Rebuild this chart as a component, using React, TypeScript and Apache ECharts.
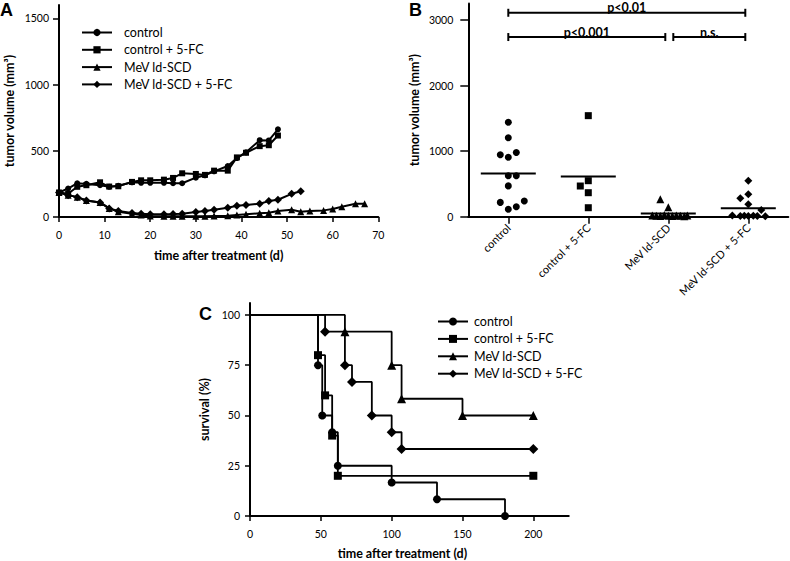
import { useEffect, useRef } from 'react';
import * as echarts from 'echarts';

const groupNames = ['control', 'control + 5-FC', 'MeV ld-SCD', 'MeV ld-SCD + 5-FC'];

// ---------- Panel A: tumor volume over time ----------
const aDaysControl = [0, 2, 4, 6, 9, 11, 13, 16, 18, 20, 23, 25, 27, 30, 32, 34, 37, 39, 41, 44, 46, 48];
const aVolControl = [185, 215, 255, 250, 240, 228, 236, 262, 258, 258, 258, 255, 255, 297, 315, 345, 385, 445, 488, 580, 578, 662];
const aVolControl5FC = [185, 175, 228, 240, 262, 230, 232, 265, 277, 277, 282, 295, 330, 325, 318, 350, 350, 450, 485, 535, 542, 615];
const aDaysMeV = [0, 2, 4, 6, 9, 11, 13, 16, 18, 20, 23, 25, 27, 30, 32, 34, 37, 39, 41, 44, 46, 48, 51, 53, 55, 58, 60, 62, 65, 67];
const aVolMeV = [185, 165, 150, 125, 110, 65, 40, 25, 15, 8, 5, 5, 5, 5, 5, 8, 10, 15, 20, 28, 32, 45, 55, 40, 45, 50, 60, 78, 100, 100];
const aDaysMeV5FC = [0, 2, 4, 6, 9, 11, 13, 16, 18, 20, 23, 25, 27, 30, 32, 34, 37, 39, 41, 44, 46, 48, 51, 53];
const aVolMeV5FC = [185, 165, 150, 125, 110, 65, 45, 30, 25, 20, 20, 22, 25, 38, 45, 55, 70, 85, 90, 100, 120, 130, 175, 195];
const aXTicks = [0, 10, 20, 30, 40, 50, 60, 70];
const aYTicks = [0, 500, 1000, 1500];

// ---------- Panel B: final tumor volumes ----------
const bControl = [1440, 1205, 945, 906, 978, 625, 625, 470, 218, 113, 153, 240];
const bControl5FC = [1541, 549, 468, 366, 137];
const bMeV = [265, 143, 20, 15, 10, 25, 15, 10, 20, 15, 5, 20];
const bMeV5FC = [549, 341, 281, 189, 102, 20, 10, 15, 10, 15, 10, 5];
const bYTicks = [0, 1000, 2000, 3000];
// horizontal jitter of the dots (layout, px)
const jitterControl = [0, 0, -8, 0, 8, 0, 8, 0, -8, 0, 8, 16];
const jitterControl5FC = [0, 0, -8, 0, 0];
const jitterMeV = [-8, 0, -16, -12, -8, -4, 0, 4, 8, 12, 16, 19];
const jitterMeV5FC = [0, 0, -8, 0, 13, -16, -8, -4, 0, 5, 9, 17];
// significance brackets
const bracketFrom = [0, 0, 2];
const bracketTo = [3, 2, 3];
const bracketLevel = [3110, 2740, 2740];
const bracketText = ['p<0.01', 'p<0.001', 'n.s.'];

// ---------- Panel C: survival ----------
const cTimeControl = [0, 48, 51, 58, 62, 100, 132, 180];
const cSurvControl = [100, 75, 50, 41.67, 25, 16.67, 8.33, 0];
const cTimeControl5FC = [0, 48, 53, 58, 62, 200];
const cSurvControl5FC = [100, 80, 60, 40, 20, 20];
const cTimeMeV = [0, 67, 100, 107, 150, 200];
const cSurvMeV = [100, 91.67, 75, 58.33, 50, 50];
const cTimeMeV5FC = [0, 53, 67, 72, 86, 100, 107, 200];
const cSurvMeV5FC = [100, 91.67, 75, 66.67, 50, 41.67, 33.33, 33.33];
const cXTicks = [0, 50, 100, 150, 200];
const cYTicks = [0, 25, 50, 75, 100];

const FONT = 'Lato, "Open Sans", sans-serif';
const symbols = ['circle', 'rect', 'triangle', 'diamond'];

const mean = (a: number[]) => a.reduce((s, v) => s + v, 0) / a.length;

function axisBase(tickLen: number, margin: number) {
  return {
    axisLine: { show: true, onZero: false, lineStyle: { color: '#000', width: 2 } },
    axisTick: { show: true, length: tickLen, lineStyle: { color: '#000', width: 1.5 } },
    axisLabel: { color: '#000', fontFamily: FONT, fontSize: 10.5, margin, formatter: (v: any) => String(v) },
    splitLine: { show: false },
    nameTextStyle: { color: '#000', fontFamily: FONT, fontSize: 12.5, fontWeight: 'bold' },
  };
}

export default function App() {
  const ref = useRef<HTMLDivElement>(null);
  useEffect(() => {
    if (!ref.current) return;
    const chart = echarts.init(ref.current, undefined, { renderer: 'svg' });

    const pairs = (xs: number[], ys: number[]) => xs.map((x, i) => [x, ys[i]]);
    const kmData = (xs: number[], ys: number[]) =>
      xs.map((x, i) => (i === 0 ? { value: [x, ys[i]], symbol: 'none' } : [x, ys[i]]));
    const jittered = (vals: number[], jit: number[], cat: number) =>
      vals.map((v, i) => ({ value: [cat, v], symbolOffset: [jit[i], 0] }));

    const aSets = [
      pairs(aDaysControl, aVolControl),
      pairs(aDaysControl, aVolControl5FC),
      pairs(aDaysMeV, aVolMeV),
      pairs(aDaysMeV5FC, aVolMeV5FC),
    ];
    const aSizes = [6, 6, 7, 8];
    const cSets = [
      kmData(cTimeControl, cSurvControl),
      kmData(cTimeControl5FC, cSurvControl5FC),
      kmData(cTimeMeV, cSurvMeV),
      kmData(cTimeMeV5FC, cSurvMeV5FC),
    ];
    const cSizes = [8, 8, 9, 10];
    const bSets = [
      jittered(bControl, jitterControl, 0),
      jittered(bControl5FC, jitterControl5FC, 1),
      jittered(bMeV, jitterMeV, 2),
      jittered(bMeV5FC, jitterMeV5FC, 3),
    ];
    const bSizes = [7, 7, 8, 8];
    const bMeans = [bControl, bControl5FC, bMeV, bMeV5FC].map(mean);

    const series: any[] = [];
    aSets.forEach((d, i) =>
      series.push({
        type: 'line', name: groupNames[i], xAxisIndex: 0, yAxisIndex: 0, data: d,
        symbol: symbols[i], symbolSize: aSizes[i], showSymbol: true,
        lineStyle: { color: '#000', width: 2 }, itemStyle: { color: '#000', opacity: 1 }, z: 3,
      })
    );
    cSets.forEach((d, i) =>
      series.push({
        type: 'line', name: groupNames[i], xAxisIndex: 2, yAxisIndex: 2, data: d, step: 'end',
        symbol: symbols[i], symbolSize: cSizes[i], showSymbol: true,
        lineStyle: { color: '#000', width: 1.8 }, itemStyle: { color: '#000', opacity: 1 }, z: 3,
      })
    );
    bSets.forEach((d, i) =>
      series.push({
        type: 'scatter', name: 'b-' + groupNames[i], xAxisIndex: 1, yAxisIndex: 1, data: d,
        symbol: symbols[i], symbolSize: bSizes[i], itemStyle: { color: '#000', opacity: 1 }, z: 3,
      })
    );
    series.push({
      type: 'custom', name: 'means', xAxisIndex: 1, yAxisIndex: 1, silent: true, z: 4, clip: false,
      data: bMeans.map((m, i) => [i, m]),
      renderItem: (_p: any, api: any) => {
        const p = api.coord([api.value(0), api.value(1)]);
        return {
          type: 'line',
          shape: { x1: p[0] - 27.5, y1: p[1], x2: p[0] + 27.5, y2: p[1] },
          style: { stroke: '#000', lineWidth: 2 },
        };
      },
    });
    series.push({
      type: 'custom', name: 'brackets', xAxisIndex: 1, yAxisIndex: 1, silent: true, z: 4, clip: false,
      data: bracketLevel.map((v, i) => [bracketFrom[i], v]),
      renderItem: (params: any, api: any) => {
        const i = params.dataIndex;
        const a = api.coord([bracketFrom[i], bracketLevel[i]]);
        const b = api.coord([bracketTo[i], bracketLevel[i]]);
        const x1 = a[0] + (bracketFrom[i] > 0 ? 5 : 0);
        const x2 = b[0] - 3;
        const y = a[1];
        const st = { stroke: '#000', lineWidth: 2 };
        return {
          type: 'group',
          children: [
            { type: 'line', shape: { x1, y1: y, x2, y2: y }, style: st },
            { type: 'line', shape: { x1, y1: y - 4, x2: x1, y2: y + 4 }, style: st },
            { type: 'line', shape: { x1: x2, y1: y - 4, x2: x2, y2: y + 4 }, style: st },
            {
              type: 'text', x: (x1 + x2) / 2, y: y - 5,
              style: {
                text: bracketText[i], align: 'center', verticalAlign: 'middle',
                font: 'bold 12.5px Lato, "Open Sans", sans-serif', fill: '#000',
              },
            },
          ],
        };
      },
    });

    const legendBase = {
      data: groupNames, orient: 'vertical', itemWidth: 30, selectedMode: false,
      textStyle: { fontFamily: FONT, fontSize: 12.5, color: '#000', lineHeight: 12 },
    };

    const option: any = {
      animation: false,
      backgroundColor: '#fff',
      textStyle: { fontFamily: FONT },
      grid: [
        { left: 59, top: 5.1, width: 319.3, height: 211.9 },
        { left: 468.3, top: 3.6, width: 320, height: 213.1 },
        { left: 250, top: 302.9, width: 318.75, height: 213.8 },
      ],
      legend: [
        {
          ...legendBase, left: 76, top: 21, itemHeight: 9, itemGap: 4.3,
          textStyle: { ...legendBase.textStyle, padding: [0, 0, 0, 7] },
        },
        {
          ...legendBase, left: 432, top: 310, itemHeight: 10, itemGap: 4.4,
          textStyle: { ...legendBase.textStyle, padding: [0, 0, 0, 1] },
        },
      ],
      xAxis: [
        {
          ...axisBase(5, 12), type: 'value', gridIndex: 0, min: 0, max: 70,
          axisTick: { ...axisBase(5, 12).axisTick, customValues: aXTicks },
          axisLabel: { ...axisBase(5, 12).axisLabel, customValues: aXTicks },
          name: 'time after treatment (d)', nameLocation: 'middle', nameGap: 32,
        },
        {
          ...axisBase(7, 8), type: 'category', gridIndex: 1, data: groupNames, boundaryGap: true,
          axisTick: { ...axisBase(7, 8).axisTick, alignWithLabel: true },
          axisLabel: { color: '#000', fontFamily: FONT, fontSize: 11, margin: 9, rotate: 45, interval: 0 },
        },
        {
          ...axisBase(5, 12), type: 'value', gridIndex: 2, min: 0, max: 225,
          axisTick: { ...axisBase(5, 12).axisTick, customValues: cXTicks },
          axisLabel: { ...axisBase(5, 12).axisLabel, customValues: cXTicks },
          name: 'time after treatment (d)', nameLocation: 'middle', nameGap: 31,
          nameTextStyle: { ...axisBase(5, 12).nameTextStyle, padding: [0, 14, 0, 0] },
        },
      ],
      yAxis: [
        {
          ...axisBase(6, 10), type: 'value', gridIndex: 0, min: 0, max: 1600,
          axisTick: { ...axisBase(6, 10).axisTick, customValues: aYTicks },
          axisLabel: { ...axisBase(6, 10).axisLabel, customValues: aYTicks },
          name: 'tumor volume (mm³)', nameLocation: 'middle', nameGap: 43,
        },
        {
          ...axisBase(8, 15), type: 'value', gridIndex: 1, min: 0, max: 3250,
          axisTick: { ...axisBase(8, 15).axisTick, customValues: bYTicks },
          axisLabel: { ...axisBase(8, 15).axisLabel, customValues: bYTicks },
          name: 'tumor volume (mm³)', nameLocation: 'middle', nameGap: 47,
        },
        {
          ...axisBase(5, 10), type: 'value', gridIndex: 2, min: 0, max: 106,
          axisTick: { ...axisBase(5, 10).axisTick, customValues: cYTicks },
          axisLabel: { ...axisBase(5, 10).axisLabel, customValues: cYTicks },
          name: 'survival (%)', nameLocation: 'middle', nameGap: 39,
        },
      ],
      graphic: [
        { type: 'text', left: 0, top: 1, style: { text: 'A', fontFamily: '"Liberation Sans", Arial', fontWeight: 'bold', fontSize: 18, fill: '#000' } },
        { type: 'text', left: 409, top: 1, style: { text: 'B', fontFamily: '"Liberation Sans", Arial', fontWeight: 'bold', fontSize: 18, fill: '#000' } },
        { type: 'text', left: 199, top: 305, style: { text: 'C', fontFamily: '"Liberation Sans", Arial', fontWeight: 'bold', fontSize: 18, fill: '#000' } },
      ],
      series,
    };
    chart.setOption(option);
    return () => chart.dispose();
  }, []);
  return (
    <div
      ref={ref}
      style={{ position: 'absolute', left: 0, top: 0, width: 790, height: 561, background: '#fff' }}
    />
  );
}
